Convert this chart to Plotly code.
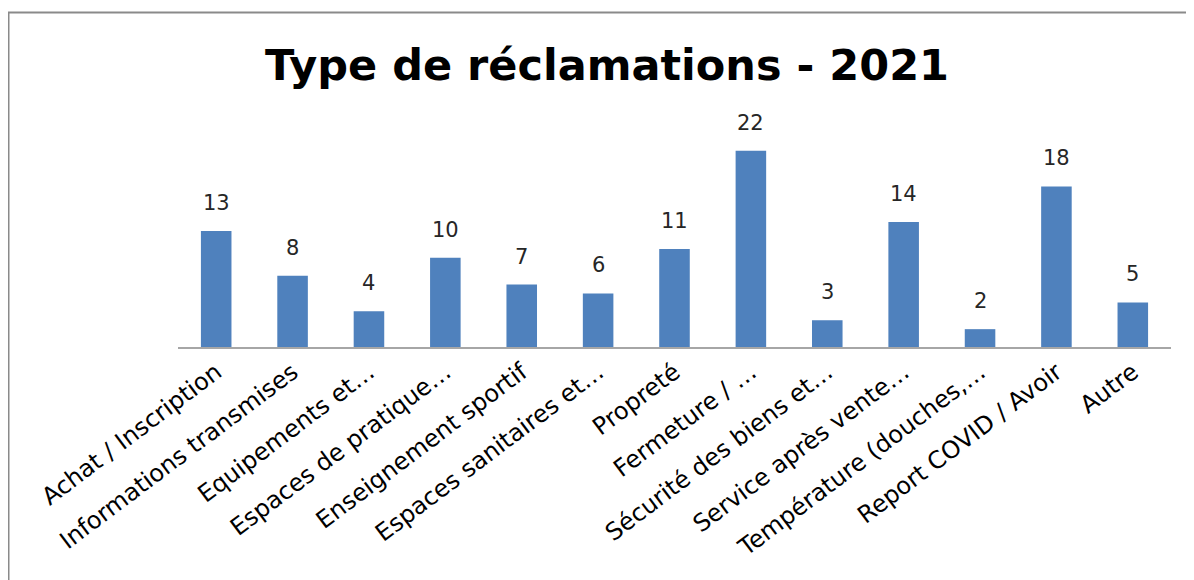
import plotly.graph_objects as go

categories = [
    "Achat / Inscription",
    "Informations transmises",
    "Equipements et…",
    "Espaces de pratique…",
    "Enseignement sportif",
    "Espaces sanitaires et…",
    "Propreté",
    "Fermeture / …",
    "Sécurité des biens et…",
    "Service après vente…",
    "Température (douches,…",
    "Report COVID / Avoir",
    "Autre",
]
values = [13, 8, 4, 10, 7, 6, 11, 22, 3, 14, 2, 18, 5]
title_text = "Type de réclamations - 2021"

# page body has an 8px default margin; coordinates below are inside the figure div
W, H = 1194, 580
L, R = 170, 1163
T, B = 116, 339
ymax = 25

fig = go.Figure()
fig.add_trace(go.Bar(
    x=categories, y=values,
    marker=dict(color="#4F81BD", line=dict(width=0)),
    hoverinfo="x+y",
))

for c, v in zip(categories, values):
    fig.add_annotation(
        x=c, y=v, text=str(v), showarrow=False,
        xref="x", yref="y", yanchor="bottom", yshift=14,
        font=dict(family="DejaVu Sans", size=21, color="#262626"),
    )

def px_to_paper_x(px):
    return (px - L) / (R - L)

def px_to_paper_y(py):
    return (B - py) / (B - T)

fig.add_shape(
    type="path", xref="paper", yref="paper",
    path="M {x0},{y0} L {x1},{y1} L {x2},{y2}".format(
        x0=px_to_paper_x(0.5), y0=px_to_paper_y(600),
        x1=px_to_paper_x(0.5), y1=px_to_paper_y(4.5),
        x2=px_to_paper_x(1210), y2=px_to_paper_y(4.5),
    ),
    line=dict(color="#8a8a8a", width=2),
)

fig.update_layout(
    width=W, height=H,
    margin=dict(l=L, r=W - R, t=T, b=H - B, autoexpand=False),
    paper_bgcolor="white", plot_bgcolor="white",
    title=dict(
        text=title_text, x=599 / W, xanchor="center",
        y=1 - 57 / H, yanchor="middle", yref="container",
        font=dict(family="DejaVu Sans", size=43, color="#000000", weight="bold"),
    ),
    bargap=0.6,
    showlegend=False,
    xaxis=dict(
        tickangle=-37, showline=True, linecolor="#a6a6a6", linewidth=1.5,
        ticks="", showgrid=False,
        tickfont=dict(family="DejaVu Sans", size=24, color="#000000"),
    ),
    yaxis=dict(range=[0, ymax], visible=False, showgrid=False, zeroline=False),
)

fig.write_html("out.html")
